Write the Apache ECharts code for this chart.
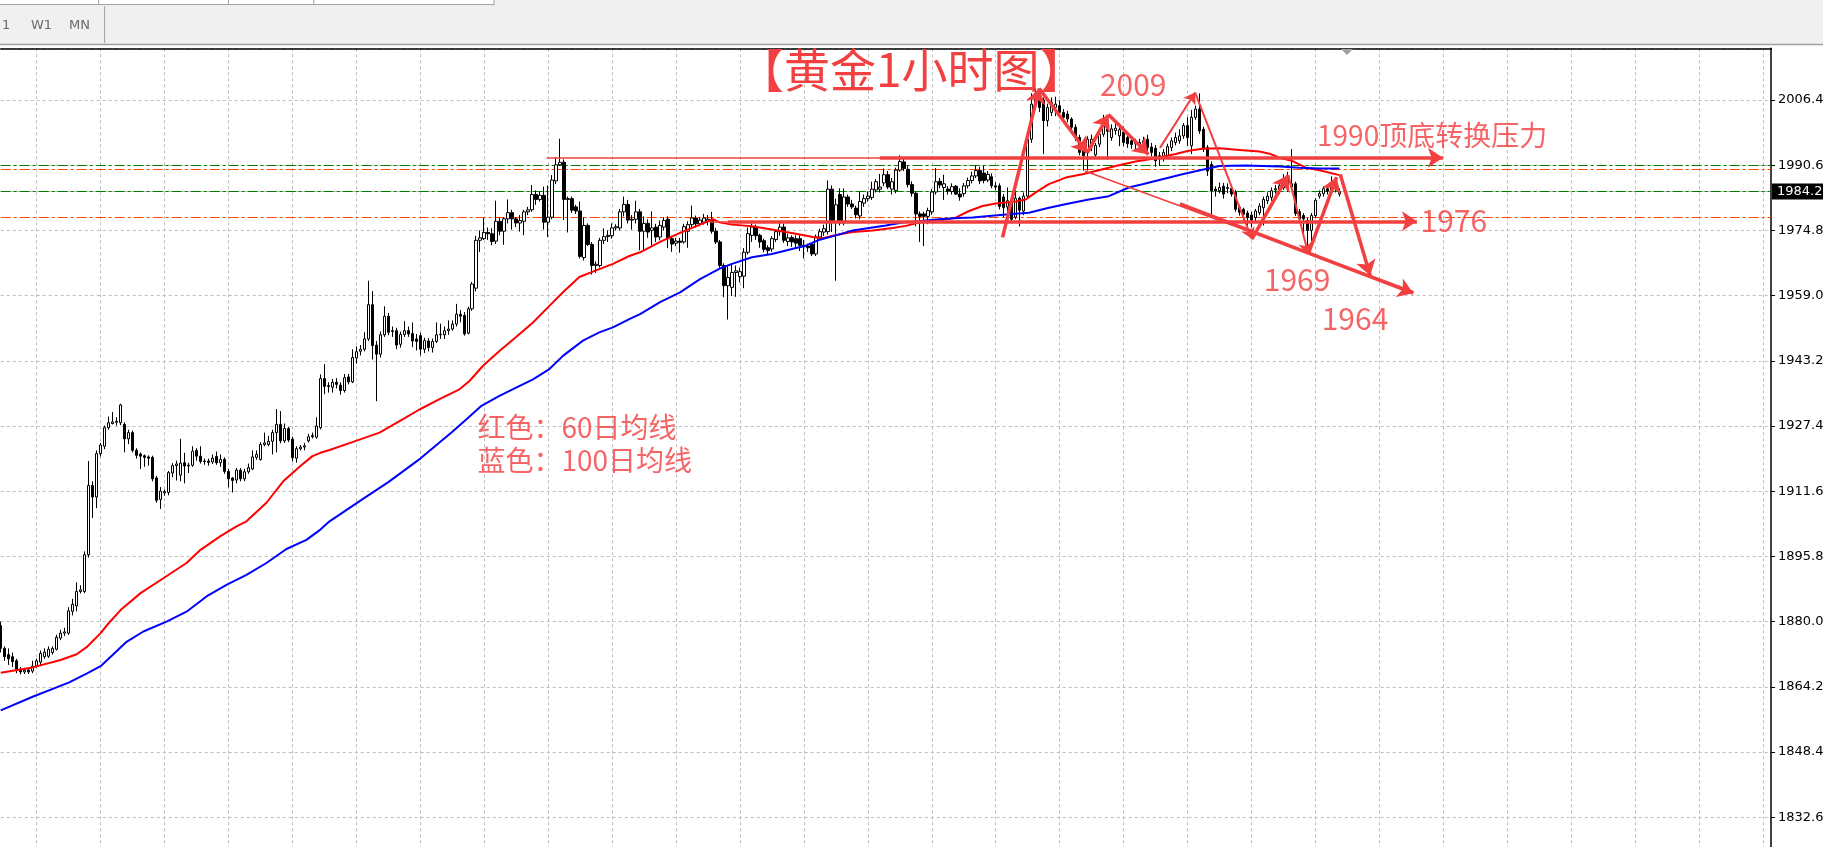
<!DOCTYPE html>
<html>
<head>
<meta charset="utf-8">
<script src="https://cdn.jsdelivr.net/npm/echarts@6/dist/echarts.min.js"></script>
<style>
html,body{margin:0;padding:0;background:#fff;}
#chart{width:1823px;height:847px;}
</style>
</head>
<body>
<div id="chart"></div>
<script>
// ---- price candles [open, close, low, high], one per hour ----
const candleData = [
[1879.0,1873.5,1872.5,1880.0],[1873.5,1871.5,1870.5,1874.0],[1872.0,1871.0,1869.5,1873.5],[1871.5,1870.3,1869.0,1872.5],
[1870.5,1868.2,1867.5,1871.0],[1868.5,1867.8,1867.2,1869.0],[1867.8,1868.2,1867.3,1868.8],[1868.3,1867.8,1867.3,1868.8],
[1868.0,1869.2,1867.5,1870.5],[1869.2,1870.5,1868.8,1871.0],[1870.2,1872.3,1869.5,1873.0],[1871.5,1872.6,1871.0,1873.5],
[1871.6,1873.3,1871.2,1874.0],[1872.5,1873.5,1872.0,1874.0],[1873.3,1876.2,1873.0,1876.8],[1876.0,1877.2,1875.5,1878.0],
[1877.2,1877.5,1876.5,1878.5],[1877.2,1882.6,1876.8,1883.5],[1882.5,1884.2,1881.5,1885.5],[1883.8,1887.3,1882.5,1889.5],
[1887.3,1887.7,1886.8,1888.8],[1887.3,1896.2,1886.9,1897.0],[1896.2,1913.0,1895.5,1918.9],[1913.0,1910.2,1905.1,1914.0],
[1910.2,1920.7,1907.5,1921.5],[1920.7,1922.8,1920.0,1923.3],[1922.5,1927.0,1921.8,1927.5],[1927.0,1928.2,1926.5,1929.7],
[1928.0,1928.4,1927.8,1930.8],[1928.3,1928.5,1927.5,1929.5],[1928.2,1932.5,1927.6,1932.8],[1927.8,1924.3,1921.0,1928.3],
[1924.3,1925.8,1923.0,1926.5],[1925.8,1921.5,1921.0,1926.3],[1921.5,1920.3,1919.5,1922.0],[1920.6,1920.1,1917.0,1921.0],
[1920.2,1919.8,1917.5,1920.5],[1919.9,1919.6,1917.8,1920.3],[1919.8,1914.6,1914.0,1920.2],[1914.8,1909.4,1908.8,1915.3],
[1909.6,1911.6,1907.3,1912.6],[1911.2,1911.5,1910.5,1912.0],[1911.3,1916.1,1910.6,1916.5],[1916.0,1917.8,1915.0,1918.4],
[1917.8,1918.2,1914.2,1919.0],[1915.5,1918.4,1914.0,1924.3],[1918.5,1917.7,1913.5,1920.9],[1917.7,1917.9,1916.0,1918.5],
[1917.9,1921.3,1917.5,1922.5],[1921.5,1920.1,1919.0,1922.0],[1920.1,1918.8,1918.3,1922.5],[1918.8,1918.9,1918.0,1919.5],
[1918.9,1918.6,1917.8,1919.5],[1918.7,1919.6,1918.2,1920.5],[1920.0,1918.5,1918.0,1921.2],[1918.5,1919.3,1917.5,1920.5],
[1919.3,1916.4,1915.8,1919.8],[1916.4,1914.6,1912.5,1917.0],[1914.8,1914.2,1911.3,1915.0],[1914.3,1916.7,1913.5,1917.2],
[1916.7,1914.6,1914.0,1917.2],[1914.6,1916.3,1914.0,1917.0],[1916.3,1917.3,1915.8,1918.3],[1917.0,1919.9,1916.7,1921.5],
[1919.8,1920.5,1919.2,1921.5],[1919.3,1922.9,1919.0,1923.5],[1922.9,1923.3,1922.5,1925.8],[1922.9,1923.7,1922.5,1925.0],
[1923.7,1925.8,1920.5,1926.5],[1925.8,1927.8,1921.0,1931.5],[1927.8,1923.8,1923.2,1931.0],[1923.8,1926.8,1923.3,1928.0],
[1926.8,1924.0,1923.5,1927.2],[1924.2,1919.7,1918.8,1924.8],[1919.6,1921.9,1918.5,1922.5],[1921.9,1922.3,1921.5,1922.8],
[1922.3,1922.6,1921.5,1923.3],[1923.8,1924.8,1923.4,1925.5],[1924.8,1925.1,1924.4,1925.8],[1924.7,1927.4,1924.3,1929.5],
[1927.0,1938.9,1926.6,1939.9],[1938.9,1937.0,1935.1,1942.4],[1937.2,1937.0,1935.5,1938.0],[1936.8,1938.0,1935.5,1938.8],
[1938.0,1937.5,1936.5,1939.0],[1937.3,1936.0,1935.0,1938.0],[1936.0,1939.1,1935.5,1940.0],[1939.3,1938.1,1937.5,1940.0],
[1938.1,1944.0,1937.8,1946.0],[1943.9,1945.4,1942.5,1946.7],[1945.5,1946.0,1944.5,1947.0],[1946.0,1948.5,1945.5,1950.1],
[1948.5,1956.8,1948.0,1962.6],[1956.8,1946.9,1943.5,1960.1],[1947.0,1944.8,1933.4,1948.0],[1944.8,1949.5,1944.0,1950.3],
[1949.5,1954.0,1949.0,1956.4],[1954.0,1950.1,1949.4,1954.8],[1950.3,1950.5,1949.0,1951.5],[1950.5,1947.0,1946.0,1951.2],
[1947.2,1949.6,1946.4,1950.3],[1949.6,1950.5,1949.0,1952.8],[1950.5,1949.7,1949.0,1951.5],[1949.8,1948.0,1946.5,1952.5],
[1948.5,1947.9,1945.7,1949.7],[1949.3,1946.0,1944.5,1950.0],[1946.0,1948.1,1945.1,1948.8],[1948.0,1946.4,1945.5,1948.7],
[1946.4,1947.9,1945.2,1948.6],[1947.9,1949.5,1947.5,1952.5],[1949.5,1949.6,1948.5,1952.2],[1949.5,1950.5,1948.5,1951.5],
[1950.5,1950.9,1949.5,1953.0],[1950.9,1952.1,1950.5,1953.0],[1952.1,1954.5,1951.5,1957.0],[1954.5,1954.0,1952.5,1955.5],
[1954.2,1949.7,1949.3,1955.0],[1949.9,1955.8,1949.6,1956.3],[1955.8,1961.8,1955.3,1962.3],[1960.8,1972.4,1960.0,1973.5],
[1972.4,1973.0,1969.6,1974.8],[1972.8,1974.3,1972.5,1977.8],[1974.3,1974.0,1972.5,1975.5],[1974.0,1972.1,1971.2,1975.3],
[1972.2,1977.0,1971.5,1982.0],[1977.0,1974.6,1973.6,1977.9],[1974.6,1977.6,1971.3,1978.0],[1977.6,1979.1,1976.5,1982.3],
[1979.1,1977.6,1975.0,1979.8],[1977.6,1976.6,1975.6,1978.0],[1976.6,1977.2,1974.5,1978.5],[1977.0,1979.3,1973.6,1979.8],
[1979.3,1979.8,1978.5,1980.5],[1979.8,1983.5,1979.3,1985.8],[1983.5,1982.3,1981.0,1984.5],[1982.3,1983.3,1981.8,1984.2],
[1983.3,1976.8,1975.0,1985.4],[1976.8,1978.0,1973.2,1985.7],[1978.0,1987.0,1977.5,1988.2],[1986.8,1990.7,1986.0,1992.5],
[1990.7,1991.3,1990.4,1997.0],[1991.3,1982.3,1977.3,1992.0],[1982.3,1982.5,1974.3,1983.0],[1982.5,1979.7,1979.0,1983.0],
[1980.5,1979.5,1978.8,1981.0],[1979.5,1968.5,1968.0,1981.8],[1968.2,1976.0,1967.5,1978.0],[1976.0,1971.4,1971.0,1976.5],
[1971.4,1966.3,1964.1,1972.0],[1966.3,1966.6,1964.5,1967.3],[1966.3,1972.4,1965.8,1973.0],[1972.4,1973.3,1971.5,1975.3],
[1973.3,1973.6,1972.0,1974.8],[1973.5,1975.4,1972.8,1976.5],[1975.4,1975.7,1974.8,1976.3],[1975.4,1979.3,1974.8,1980.0],
[1979.3,1981.1,1978.2,1983.0],[1981.1,1977.3,1976.5,1982.2],[1977.3,1977.5,1975.0,1978.5],[1977.5,1979.3,1976.5,1982.0],
[1979.3,1974.6,1970.0,1980.0],[1974.6,1976.5,1970.0,1978.2],[1976.5,1974.4,1973.0,1977.5],[1974.8,1975.4,1971.2,1979.4],
[1975.6,1973.2,1972.0,1976.4],[1973.2,1976.0,1972.4,1977.2],[1975.6,1977.2,1974.8,1978.0],[1977.5,1972.8,1970.5,1978.2],
[1972.8,1971.5,1969.6,1973.5],[1971.7,1972.2,1971.0,1973.0],[1972.2,1971.9,1969.4,1973.0],[1972.0,1975.7,1971.6,1976.4],
[1974.6,1976.2,1970.6,1977.0],[1976.2,1977.8,1975.5,1980.8],[1977.8,1976.4,1975.5,1978.4],[1976.4,1977.3,1975.8,1978.0],
[1976.8,1977.8,1976.2,1978.8],[1977.0,1977.5,1976.0,1978.5],[1977.5,1974.6,1974.0,1979.3],[1974.6,1972.0,1971.5,1975.4],
[1972.0,1966.3,1965.5,1972.5],[1966.3,1961.4,1958.6,1966.8],[1961.4,1963.4,1953.2,1966.3],[1961.0,1964.6,1958.9,1966.6],
[1964.6,1965.0,1958.7,1966.3],[1963.6,1964.8,1962.2,1965.8],[1963.7,1969.5,1960.8,1970.5],[1969.5,1974.0,1969.0,1975.5],
[1973.6,1975.6,1972.0,1976.5],[1975.6,1973.5,1972.5,1976.2],[1973.6,1972.0,1970.6,1974.0],[1972.3,1970.2,1969.5,1972.8],
[1970.6,1969.9,1969.0,1971.2],[1970.3,1972.8,1969.6,1973.4],[1972.6,1974.5,1972.0,1975.0],[1974.5,1975.6,1973.5,1976.8],
[1975.6,1972.4,1971.8,1976.4],[1972.1,1973.0,1971.0,1974.0],[1973.1,1972.0,1970.8,1973.6],[1972.8,1971.7,1970.4,1973.6],
[1972.8,1971.2,1969.8,1973.6],[1971.2,1970.9,1968.0,1972.5],[1971.0,1970.6,1969.6,1971.6],[1971.4,1969.1,1968.6,1971.8],
[1969.1,1973.2,1968.6,1973.8],[1973.2,1974.5,1972.5,1975.2],[1974.4,1975.2,1973.5,1976.2],[1974.5,1984.8,1973.8,1986.9],
[1984.8,1976.9,1974.4,1985.7],[1976.9,1981.0,1962.6,1982.5],[1983.5,1976.6,1976.0,1985.0],[1976.6,1982.9,1976.0,1985.0],
[1982.9,1981.2,1980.5,1983.5],[1981.2,1980.5,1980.0,1982.2],[1980.2,1978.6,1977.7,1980.8],[1978.3,1981.8,1977.5,1984.2],
[1981.4,1982.5,1980.5,1983.5],[1982.5,1983.1,1981.8,1984.2],[1982.8,1984.8,1982.2,1986.6],[1984.6,1986.6,1984.0,1987.2],
[1984.8,1985.3,1984.0,1988.5],[1986.3,1988.3,1985.5,1989.8],[1988.3,1985.3,1984.8,1989.2],[1984.8,1986.6,1983.5,1987.5],
[1984.5,1989.4,1983.8,1990.0],[1989.4,1991.5,1989.0,1993.0],[1991.4,1989.8,1989.2,1992.3],[1989.6,1985.9,1985.2,1990.5],
[1985.9,1983.8,1983.0,1986.7],[1983.8,1978.8,1975.8,1984.2],[1978.8,1978.2,1972.0,1979.4],[1978.8,1978.2,1971.0,1979.3],
[1978.2,1979.6,1976.3,1980.3],[1979.3,1984.1,1978.6,1984.8],[1984.1,1986.6,1983.5,1989.9],[1986.7,1985.8,1985.0,1987.5],
[1985.2,1986.1,1982.2,1988.3],[1984.8,1984.3,1983.5,1985.5],[1984.2,1985.4,1983.5,1986.2],[1985.5,1983.6,1983.4,1985.8],
[1983.6,1982.9,1982.0,1985.0],[1983.7,1985.6,1983.0,1986.3],[1985.6,1986.9,1985.0,1987.6],[1986.9,1988.0,1986.2,1989.0],
[1988.0,1989.3,1987.5,1990.5],[1989.3,1986.8,1986.0,1990.2],[1988.7,1986.9,1986.2,1990.5],[1987.0,1988.4,1986.5,1989.2],
[1987.8,1985.6,1985.0,1988.6],[1985.6,1985.3,1984.5,1986.5],[1985.6,1980.6,1979.9,1986.2],[1982.9,1980.3,1978.0,1983.6],
[1980.5,1982.0,1976.6,1985.2],[1982.0,1977.5,1976.6,1983.0],[1978.0,1982.6,1977.5,1984.8],[1982.6,1979.7,1975.8,1983.0],
[1979.5,1983.1,1978.5,1984.0],[1983.1,1996.9,1982.5,1997.8],[1996.9,2005.4,1996.0,2008.0],[2005.4,2008.0,2004.8,2009.2],
[2008.0,2004.6,2003.5,2008.6],[2006.4,2001.4,1993.3,2007.0],[2001.4,2004.6,2000.0,2005.5],[2003.4,2005.8,2002.5,2007.0],
[2004.6,2005.4,2002.5,2007.2],[2005.0,2003.4,2002.5,2006.3],[2003.4,2002.2,2001.5,2004.2],[2003.0,2001.8,2001.0,2003.8],
[2001.8,1999.8,1999.0,2002.2],[1999.8,1997.3,1996.5,2000.5],[1997.3,1993.7,1993.0,1998.0],[1995.0,1992.9,1989.3,1995.7],
[1993.7,1996.9,1989.3,1997.6],[1995.0,1996.9,1994.0,1998.0],[1993.1,1995.4,1992.5,1996.0],[1995.7,1998.1,1995.0,1999.5],
[1998.1,2001.4,1997.5,2002.8],[1999.4,1998.8,1992.0,2002.6],[1997.3,1999.4,1996.5,2000.5],[1999.0,1999.6,1998.0,2001.0],
[1997.7,1999.2,1995.2,2000.8],[1998.6,1996.1,1995.2,2000.0],[1997.3,1995.8,1994.8,1998.3],[1996.5,1995.6,1994.6,1997.2],
[1996.1,1995.9,1994.3,1997.0],[1995.6,1996.1,1994.8,1997.0],[1995.9,1996.5,1995.2,1997.5],[1996.9,1994.9,1994.0,1998.0],
[1995.0,1993.7,1992.7,1996.0],[1994.7,1991.7,1990.2,1995.5],[1992.9,1992.1,1990.4,1993.8],[1992.4,1993.7,1991.5,1994.5],
[1992.9,1995.1,1992.1,1995.8],[1994.9,1996.5,1994.0,1997.3],[1996.1,1997.3,1995.4,1998.5],[1996.5,1997.7,1995.8,1999.3],
[1997.7,2000.2,1997.0,2000.8],[2000.2,1997.3,1995.3,2002.2],[1995.3,2002.2,1993.3,2004.0],[2002.2,2004.2,2001.6,2005.0],
[2004.2,1998.9,1998.2,2008.0],[1999.3,1994.5,1993.8,1999.9],[1994.9,1989.2,1988.0,1995.5],[1990.8,1984.4,1977.9,1991.5],
[1984.8,1984.4,1983.0,1985.5],[1984.4,1985.2,1983.8,1986.4],[1985.5,1983.6,1982.5,1986.3],[1985.2,1985.0,1983.8,1986.2],
[1985.0,1983.6,1983.0,1985.5],[1984.0,1979.9,1979.3,1984.6],[1980.4,1979.2,1978.4,1981.0],[1979.9,1978.7,1977.0,1980.3],
[1979.0,1977.9,1976.0,1979.6],[1978.5,1977.3,1975.5,1979.3],[1977.9,1979.5,1977.0,1980.0],[1979.1,1980.7,1978.5,1981.4],
[1980.3,1982.3,1976.0,1983.0],[1982.0,1983.1,1981.2,1984.0],[1982.8,1984.4,1982.0,1985.2],[1984.6,1984.9,1983.7,1985.8],
[1984.2,1985.6,1983.6,1986.3],[1985.1,1987.4,1984.6,1988.4],[1987.4,1985.3,1984.2,1989.0],[1985.3,1986.1,1985.0,1994.5],
[1986.1,1978.9,1978.3,1986.6],[1979.3,1977.6,1976.8,1980.0],[1978.4,1977.6,1973.6,1979.0],[1977.2,1974.8,1969.9,1977.8],
[1974.8,1978.4,1972.0,1979.0],[1978.4,1982.1,1977.8,1982.6],[1983.1,1983.7,1982.5,1984.5],[1983.7,1984.9,1983.0,1985.5],
[1984.9,1984.3,1983.5,1985.8],[1984.1,1986.1,1983.6,1987.9],[1986.1,1984.9,1984.0,1986.8],[1983.6,1984.2,1983.0,1985.0]
];

// ---- moving averages: [bar index, price] ----
const ma60Points = [
[0,1867.6],[8,1868.9],[15,1870.7],[19,1872.1],[21.5,1873.8],[25,1877.2],[27,1879.6],[30,1882.8],[35,1886.9],
[40.7,1890.5],[46.5,1894.2],[50,1897.4],[55,1900.7],[59,1903.1],[61.5,1904.3],[66.5,1908.8],[70.7,1914.0],
[75,1917.7],[78,1920.1],[80,1920.9],[82.3,1921.6],[88,1923.5],[94.8,1925.8],[99.8,1928.6],[104.8,1931.4],
[109.8,1933.9],[114.8,1936.3],[117.3,1938.3],[120.7,1942.0],[124.8,1945.6],[128.9,1948.9],[133.2,1952.5],
[137,1956.2],[140.7,1959.8],[144.8,1963.5],[149,1965.1],[153.2,1966.7],[157.3,1968.6],[160,1969.5],[165,1972.0],
[170,1974.2],[175,1976.2],[178.2,1977.5],[179.8,1976.8],[183,1976.2],[188,1975.8],[193,1975.0],[196.5,1974.4],
[200.7,1973.7],[203.2,1973.2],[205.7,1972.9],[209,1973.7],[213.2,1974.4],[218.2,1974.8],[223.2,1975.4],
[226.5,1975.9],[229.8,1976.7],[234.8,1977.2],[239,1977.9],[242.3,1979.5],[245.7,1980.7],[249,1981.3],
[254,1981.8],[256.5,1982.3],[259,1984.0],[262.3,1986.0],[266.5,1987.6],[270.7,1988.4],[274.8,1989.4],
[279,1990.4],[284,1991.5],[289,1992.3],[294,1993.3],[297.3,1994.1],[300.7,1994.6],[305,1994.7],[310,1994.3],
[315,1993.9],[317.5,1993.4],[320,1992.4],[323.3,1991.6],[326.6,1990.0],[330,1989.4],[335,1988.2]
];
const ma100Points = [
[0,1858.5],[8,1861.8],[17,1865.2],[21.5,1867.4],[25,1869.2],[28,1871.9],[31.5,1875.1],[35.7,1877.6],
[41.5,1880.0],[46.5,1882.4],[51.5,1886.1],[56.5,1888.9],[61.5,1891.3],[66.5,1894.2],[71.5,1897.6],
[76.5,1899.8],[80,1902.3],[82.3,1904.3],[90,1909.3],[97,1913.8],[105,1919.5],[112.8,1925.8],[116.5,1929.0],
[120.3,1932.3],[124.8,1934.7],[129,1936.7],[133.2,1938.7],[137.3,1941.2],[140.7,1944.4],[145.7,1948.1],
[149.8,1950.1],[153.2,1951.3],[157.3,1953.3],[160,1954.5],[165,1957.4],[170,1959.8],[175,1963.0],
[179.8,1965.5],[183,1966.7],[188,1968.3],[193,1969.1],[198,1970.3],[201.2,1971.0],[204.5,1972.4],
[209,1973.6],[213.2,1974.8],[217.3,1975.4],[221.5,1976.0],[225.7,1976.7],[229.8,1977.0],[234.8,1977.5],
[239.8,1977.8],[243.2,1977.9],[247.3,1978.3],[252.3,1978.7],[257.3,1979.1],[262.3,1980.3],[267.3,1981.3],
[272.3,1982.3],[277.3,1983.1],[282.3,1985.2],[285.7,1986.0],[290.7,1987.2],[295.7,1988.4],[300.7,1989.5],
[305,1990.4],[311.6,1990.5],[320,1990.3],[325,1990.0],[330,1989.8],[335,1989.8]
];

// ---- price-axis tick labels ----
const tickBase = 1816.8;
const tickStep = 15.8;
const priceMin = 1816.8;
const priceMax = 2018.93;
const barCount = 444;

// ---- horizontal levels ----
const greenLevels = [1990.6, 1984.2];
const orangeLevels = [1989.5, 1977.9];
const bidPrice = 1984.2;

// ---- hand-drawn annotation segments [[bar, price],[bar, price]] ----
const plainSegments = [
  [[136.6,1992.5],[225,1992.5]],
  [[177.3,1977.0],[183,1977.0]],
  [[271.3,1989.2],[353.5,1960.0]]
];
const boldArrows = [
  [[220,1992.4],[360.9,1992.4]],
  [[182,1977.0],[354.4,1977.0]],
  [[295.1,1981.2],[353.5,1959.6]],
  [[250.7,1973.1],[259.9,2009.2]],
  [[259.9,2009.2],[271.9,1993.6]],
  [[271.9,1993.6],[277.2,2002.8]],
  [[277.2,2002.9],[287.2,1993.2]],
  [[313.1,1972.7],[322.2,1988.2]],
  [[327.2,1969.1],[334.3,1987.7]],
  [[335.2,1988.4],[342.7,1963.9]]
];
const lightArrows = [
  [[290.1,1994.8],[298.9,2008.2]],
  [[298.9,2008.2],[313.1,1972.7]],
  [[322.2,1988.2],[327.2,1969.1]]
];

// ---- annotation texts [bar, price, text] ----
const centeredNotes = [
  [283.4, 2010.1, '2009'],
  [324.4, 1962.9, '1969'],
  [338.9, 1953.4, '1964']
];
const leftNotes = [
  [355.3, 1977.1, '1976']
];
const wideNotes = [
  [329.4, 1997.8, '1990顶底转换压力'],
  [119.3, 1927.0, '红色：60日均线'],
  [119.3, 1919.1, '蓝色：100日均线']
];
const titleText = '【黄金1小时图】';

const RED = '#f23f3f';
const cjk = '"Noto Sans CJK SC", "Noto Sans", sans-serif';

const categories = [];
for (let i = 0; i < barCount; i++) categories.push(String(i));

const chart = echarts.init(document.getElementById('chart'), null, {renderer: 'canvas'});

const levelLines = [];
greenLevels.forEach(v => {
  if (v === bidPrice) {
    levelLines.push({yAxis: v, lineStyle: {color: '#c0c0c0', type: 'solid', width: 1},
      label: {show: true, position: 'end', distance: 1, formatter: bidPrice.toFixed(1),
        backgroundColor: '#000', color: '#fff', padding: [2, 5, 1, 5],
        fontSize: 13, fontFamily: '"DejaVu Sans", sans-serif'}});
  }
  levelLines.push({yAxis: v, lineStyle: {color: '#008000', type: [10, 3, 3, 3], width: 1}});
});
orangeLevels.forEach(v => {
  levelLines.push({yAxis: v, lineStyle: {color: '#ff4500', type: [10, 3, 3, 3], width: 1}});
});

const option = {
  animation: false,
  backgroundColor: '#ffffff',
  title: {
    text: titleText, left: 738, top: 47, padding: 0,
    textStyle: {color: RED, fontSize: 46, fontWeight: 'normal', fontFamily: cjk}
  },
  grid: {left: 0.7, right: 52, top: 48.3, height: 834.1, containLabel: false, outerBoundsMode: 'none'},
  xAxis: [
    {
      type: 'category', data: categories, boundaryGap: false,
      axisLine: {show: false}, axisTick: {show: false}, axisLabel: {show: false},
      splitLine: {show: true, interval: (idx) => idx % 16 === 9,
        lineStyle: {color: '#bdbdbd', type: [3, 3], width: 1}}
    },
    {
      type: 'value', min: 0, max: barCount - 1, position: 'top',
      axisLine: {show: true, onZero: false, lineStyle: {color: '#000', width: 1.5}},
      axisTick: {show: false}, axisLabel: {show: false}, splitLine: {show: false}
    }
  ],
  yAxis: [
    {
      type: 'value', min: priceMin, max: priceMax, position: 'right',
      axisLine: {show: false}, axisTick: {show: false}, axisLabel: {show: false}, splitLine: {show: false}
    },
    {
      type: 'value', min: 0, max: (priceMax - tickBase) / tickStep, interval: 1, position: 'right',
      axisLine: {show: true, onZero: false, lineStyle: {color: '#000', width: 1.5}},
      axisTick: {show: true, length: 4, lineStyle: {color: '#000'}},
      axisLabel: {
        show: true, margin: 7, color: '#000', fontSize: 13, fontFamily: '"DejaVu Sans", sans-serif',
        showMaxLabel: false, showMinLabel: false,
        formatter: (v) => (tickBase + v * tickStep).toFixed(1)
      },
      splitLine: {show: true, lineStyle: {color: '#bdbdbd', type: [3, 3], width: 1}}
    }
  ],
  series: [
    {
      type: 'candlestick', name: 'XAUUSD', xAxisIndex: 0, yAxisIndex: 0,
      data: candleData, barWidth: 3, z: 3,
      itemStyle: {color: '#ffffff', color0: '#000000', borderColor: '#000000', borderColor0: '#000000',
        borderColorDoji: '#000000', borderWidth: 1},
      markLine: {silent: true, symbol: 'none', animation: false, z: 1,
        label: {show: false}, data: levelLines}
    },
    {
      type: 'line', name: 'MA60', xAxisIndex: 1, yAxisIndex: 0, data: ma60Points,
      showSymbol: false, smooth: false, z: 4, lineStyle: {color: '#ff0000', width: 2}
    },
    {
      type: 'line', name: 'MA100', xAxisIndex: 1, yAxisIndex: 0, data: ma100Points,
      showSymbol: false, smooth: false, z: 4, lineStyle: {color: '#0000ff', width: 2}
    },
    {
      type: 'lines', coordinateSystem: 'cartesian2d', xAxisIndex: 1, yAxisIndex: 0, z: 6,
      symbol: 'none', lineStyle: {color: RED, width: 1.5, opacity: 1},
      data: plainSegments.map(s => ({coords: s}))
    },
    {
      type: 'lines', coordinateSystem: 'cartesian2d', xAxisIndex: 1, yAxisIndex: 0, z: 6,
      symbol: ['none', 'arrow'], symbolSize: 15,
      lineStyle: {color: RED, width: 3.5, opacity: 1},
      data: boldArrows.map(s => ({coords: s}))
    },
    {
      type: 'lines', coordinateSystem: 'cartesian2d', xAxisIndex: 1, yAxisIndex: 0, z: 6,
      symbol: ['none', 'arrow'], symbolSize: 11,
      lineStyle: {color: RED, width: 2, opacity: 1},
      data: lightArrows.map(s => ({coords: s}))
    },
    {
      type: 'scatter', xAxisIndex: 1, yAxisIndex: 0, symbolSize: 0, z: 7, silent: true,
      label: {show: true, position: 'inside', color: RED, fontSize: 30, fontFamily: cjk,
        formatter: (p) => p.data[2]},
      data: centeredNotes
    },
    {
      type: 'scatter', xAxisIndex: 1, yAxisIndex: 0, symbolSize: 0, z: 7, silent: true,
      label: {show: true, position: 'right', distance: 0, color: RED, fontSize: 30, fontFamily: cjk,
        formatter: (p) => p.data[2]},
      data: leftNotes
    },
    {
      type: 'scatter', xAxisIndex: 1, yAxisIndex: 0, symbolSize: 0, z: 7, silent: true,
      label: {show: true, position: 'right', distance: 0, color: RED, fontSize: 28, fontFamily: cjk,
        formatter: (p) => p.data[2]},
      data: wideNotes
    }
  ],
  graphic: [
    {type: 'rect', shape: {x: 0, y: 0, width: 1823, height: 44}, style: {fill: '#f0f0f0'}, z: 100},
    {type: 'rect', shape: {x: 0, y: 0, width: 494, height: 4}, style: {fill: '#ffffff'}, z: 101},
    {type: 'line', shape: {x1: 0, y1: 4.5, x2: 494, y2: 4.5}, style: {stroke: '#a0a0a0', lineWidth: 1}, z: 102},
    {type: 'line', shape: {x1: 494, y1: 0, x2: 494, y2: 4.5}, style: {stroke: '#a0a0a0', lineWidth: 1}, z: 102},
    {type: 'line', shape: {x1: 98.7, y1: 0, x2: 98.7, y2: 4}, style: {stroke: '#a0a0a0', lineWidth: 1}, z: 102},
    {type: 'line', shape: {x1: 228.5, y1: 0, x2: 228.5, y2: 4}, style: {stroke: '#a0a0a0', lineWidth: 1}, z: 102},
    {type: 'line', shape: {x1: 313.8, y1: 0, x2: 313.8, y2: 4}, style: {stroke: '#a0a0a0', lineWidth: 1}, z: 102},
    {type: 'line', shape: {x1: 104.6, y1: 6, x2: 104.6, y2: 43}, style: {stroke: '#a0a0a0', lineWidth: 1}, z: 102},
    {type: 'line', shape: {x1: 0, y1: 44.5, x2: 1823, y2: 44.5}, style: {stroke: '#a0a0a0', lineWidth: 1.5}, z: 102},
    {type: 'text', x: 2, y: 26, style: {text: '1', fill: '#6a6a6a', font: '13px "DejaVu Sans"', verticalAlign: 'middle'}, z: 103},
    {type: 'text', x: 31, y: 26, style: {text: 'W1', fill: '#6a6a6a', font: '13px "DejaVu Sans"', verticalAlign: 'middle'}, z: 103},
    {type: 'text', x: 69, y: 26, style: {text: 'MN', fill: '#6a6a6a', font: '13px "DejaVu Sans"', verticalAlign: 'middle'}, z: 103},
    {type: 'polygon', shape: {points: [[1341, 49], [1353, 49], [1347, 55]]}, style: {fill: '#a0a0a0'}, z: 103}
  ]
};

chart.setOption(option);
</script>
</body>
</html>
